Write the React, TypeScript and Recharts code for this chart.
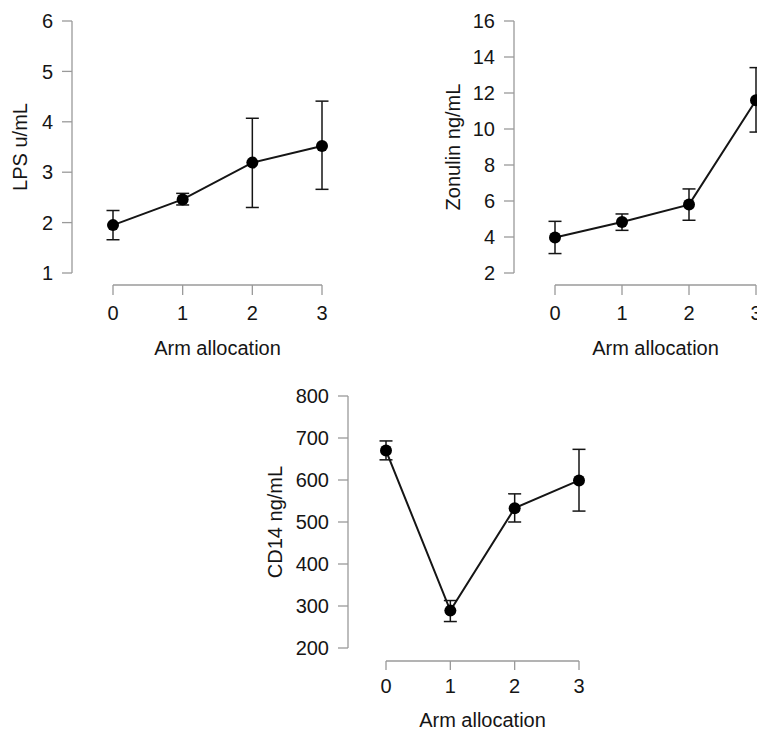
import { LineChart, Line, XAxis, YAxis, ErrorBar, ReferenceLine } from 'recharts'

// arm allocation groups
const arms = [0, 1, 2, 3]

// LPS u/mL: mean with lower / upper error limits
const lpsMean = [1.95, 2.46, 3.19, 3.52]
const lpsLow = [1.66, 2.35, 2.3, 2.66]
const lpsHigh = [2.24, 2.58, 4.07, 4.41]
const lpsTicks = [1, 2, 3, 4, 5, 6]

// Zonulin ng/mL
const zonulinMean = [3.97, 4.83, 5.8, 11.6]
const zonulinLow = [3.08, 4.37, 4.93, 9.83]
const zonulinHigh = [4.87, 5.28, 6.67, 13.41]
const zonulinTicks = [2, 4, 6, 8, 10, 12, 14, 16]

// CD14 ng/mL
const cd14Mean = [670, 289, 533, 599]
const cd14Low = [648, 263, 500, 526]
const cd14High = [693, 313, 567, 673]
const cd14Ticks = [200, 300, 400, 500, 600, 700, 800]

const INK = '#151515'
const AXIS = '#9a9a9a'
const FONT = 20

const toRows = (mean: number[], low: number[], high: number[]) =>
  arms.map((arm, i) => ({ arm, mean: mean[i], err: [mean[i] - low[i], high[i] - mean[i]] }))

interface PanelProps {
  left: number
  top: number
  width: number
  height: number
  marginTop: number
  marginRight: number
  xHeight: number
  yWidth: number
  pad: number
  yLabel: string
  yLabelX: number
  yTicks: number[]
  data: { arm: number; mean: number; err: number[] }[]
  lineGap: number
  tickLen: number
  labelGap: number
  titleGap: number
}

function Panel(p: PanelProps) {
  const yMin = p.yTicks[0]
  const yMax = p.yTicks[p.yTicks.length - 1]

  const baseLine = (s: any) => (
    <line x1={s.x1} y1={s.y1 + p.lineGap} x2={s.x2} y2={s.y2 + p.lineGap} stroke={AXIS} strokeWidth={1.3} />
  )

  const armTick = (t: any) => (
    <g>
      <line x1={t.x} x2={t.x} y1={t.y + p.lineGap} y2={t.y + p.lineGap + p.tickLen} stroke={AXIS} strokeWidth={1.3} />
      <text x={t.x} y={t.y + p.labelGap} textAnchor="middle" fill={INK} fontSize={FONT}>
        {t.payload.value}
      </text>
    </g>
  )

  return (
    <div style={{ position: 'absolute', left: p.left, top: p.top }}>
      <LineChart
        width={p.width}
        height={p.height}
        data={p.data}
        margin={{ top: p.marginTop, right: p.marginRight, bottom: 0, left: 0 }}
      >
        <XAxis
          dataKey="arm"
          type="number"
          domain={[0, 3]}
          ticks={arms}
          interval={0}
          padding={{ left: p.pad, right: p.pad }}
          axisLine={false}
          tickLine={false}
          tickSize={0}
          tickMargin={0}
          height={p.xHeight}
          tick={armTick}
          label={{ value: 'Arm allocation', position: 'insideTop', offset: p.titleGap, fill: INK, fontSize: FONT }}
        />
        <YAxis
          type="number"
          domain={[yMin, yMax]}
          ticks={p.yTicks}
          interval={0}
          width={p.yWidth}
          tickSize={10}
          tickMargin={9}
          axisLine={{ stroke: AXIS, strokeWidth: 1.3 }}
          tickLine={{ stroke: AXIS, strokeWidth: 1.3 }}
          tick={{ fill: INK, fontSize: FONT }}
          label={{
            value: p.yLabel,
            angle: -90,
            position: 'insideLeft',
            offset: p.yLabelX,
            fill: INK,
            fontSize: FONT,
            style: { textAnchor: 'middle' },
          }}
        />
        <ReferenceLine
          segment={[{ x: 0, y: yMin }, { x: 3, y: yMin }]}
          ifOverflow="visible"
          shape={baseLine}
        />
        <Line
          type="linear"
          dataKey="mean"
          stroke={INK}
          strokeWidth={2}
          dot={{ r: 6, fill: '#000', stroke: '#000', strokeWidth: 0 }}
          activeDot={false}
          isAnimationActive={false}
        >
          <ErrorBar dataKey="err" direction="y" width={6.5} stroke={INK} strokeWidth={1.5} isAnimationActive={false} />
        </Line>
      </LineChart>
    </div>
  )
}

export default function App() {
  return (
    <div
      style={{
        position: 'fixed',
        left: 0,
        top: 0,
        width: 757,
        height: 731,
        overflow: 'hidden',
        background: '#fff',
        fontFamily: '"Liberation Sans", Arial, sans-serif',
      }}
    >
      <Panel
        left={0}
        top={0}
        width={380}
        height={365}
        marginTop={21}
        marginRight={17}
        xHeight={92}
        yWidth={72}
        pad={41}
        yLabel="LPS u/mL"
        yLabelX={20}
        yTicks={lpsTicks}
        data={toRows(lpsMean, lpsLow, lpsHigh)}
        lineGap={12}
        tickLen={10}
        labelGap={47}
        titleGap={68}
      />
      <Panel
        left={430}
        top={0}
        width={380}
        height={365}
        marginTop={21}
        marginRight={13}
        xHeight={92}
        yWidth={84}
        pad={41}
        yLabel="Zonulin ng/mL"
        yLabelX={23}
        yTicks={zonulinTicks}
        data={toRows(zonulinMean, zonulinLow, zonulinHigh)}
        lineGap={12}
        tickLen={10}
        labelGap={47}
        titleGap={68}
      />
      <Panel
        left={255}
        top={375}
        width={372}
        height={356}
        marginTop={21}
        marginRight={10}
        xHeight={83}
        yWidth={93}
        pad={38}
        yLabel="CD14 ng/mL"
        yLabelX={20}
        yTicks={cd14Ticks}
        data={toRows(cd14Mean, cd14Low, cd14High)}
        lineGap={13}
        tickLen={9}
        labelGap={45}
        titleGap={65}
      />
    </div>
  )
}
